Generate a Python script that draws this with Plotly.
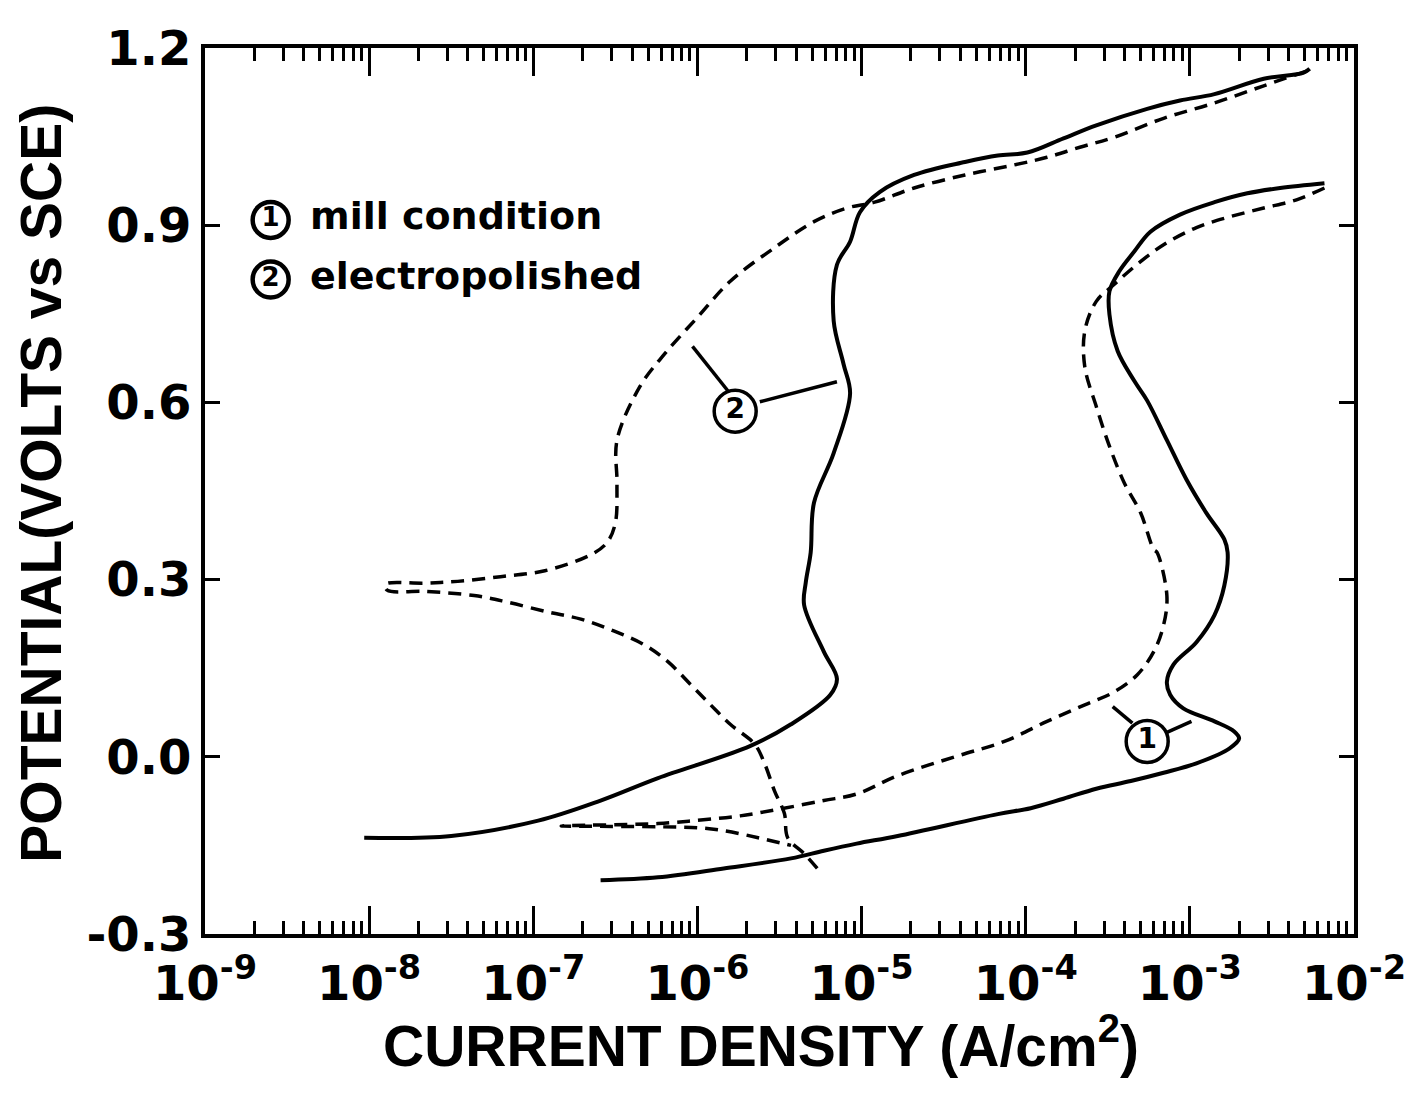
import plotly.graph_objects as go

# ---------------- data (log10 of current density in A/cm^2, potential in V vs SCE) ----------------
# (2) electropolished, forward scan (solid)
ep_fwd_logi = [-8.03, -7.50, -6.97, -6.59, -6.24, -5.68, -5.43, -5.19, -5.15, -5.23, -5.35, -5.34, -5.31,
               -5.29, -5.17, -5.07, -5.11, -5.17, -5.15, -5.07, -5.01, -4.89, -4.68, -4.37, -4.17, -3.99,
               -3.77, -3.57, -3.26, -3.06, -2.85, -2.55, -2.31, -2.27]
ep_fwd_v = [-0.137, -0.134, -0.108, -0.074, -0.036, 0.018, 0.055, 0.105, 0.132, 0.178, 0.257, 0.295, 0.346,
            0.430, 0.514, 0.615, 0.665, 0.738, 0.833, 0.872, 0.922, 0.956, 0.985, 1.007, 1.018, 1.023,
            1.047, 1.069, 1.097, 1.111, 1.122, 1.148, 1.158, 1.165]

# (2) electropolished, reverse scan (dashed)
ep_rev_logi = [-2.29, -2.55, -2.85, -3.16, -3.46, -3.67, -3.87, -4.07, -4.37, -4.68, -4.92, -5.09, -5.29,
               -5.53, -5.80, -6.00, -6.20, -6.35, -6.49, -6.49, -6.50, -6.55, -6.65, -6.93, -7.20, -7.46,
               -7.66, -7.90, -7.89, -7.66, -7.36, -7.16, -6.91, -6.71, -6.51, -6.32, -6.18, -6.04, -5.92,
               -5.80, -5.65, -5.59, -5.53, -5.47, -5.45, -5.35, -5.27]
ep_rev_v = [1.161, 1.136, 1.107, 1.081, 1.049, 1.032, 1.015, 1.002, 0.985, 0.963, 0.939, 0.929, 0.906,
            0.862, 0.805, 0.744, 0.682, 0.627, 0.536, 0.463, 0.396, 0.363, 0.342, 0.315, 0.305, 0.297,
            0.294, 0.292, 0.282, 0.280, 0.273, 0.262, 0.245, 0.233, 0.213, 0.189, 0.161, 0.122, 0.088,
            0.055, 0.021, -0.012, -0.058, -0.096, -0.137, -0.164, -0.189]

# (1) mill condition, forward scan (solid)
mill_fwd_logi = [-6.59, -6.24, -5.84, -5.43, -5.23, -5.03, -4.78, -4.17, -3.97, -3.77, -3.57, -3.36, -3.16,
                 -2.96, -2.76, -2.70, -2.73, -2.85, -3.04, -3.12, -3.14, -3.10, -2.96, -2.85, -2.79, -2.77,
                 -2.79, -2.90, -3.02, -3.14, -3.26, -3.34, -3.44, -3.49, -3.49, -3.43, -3.34, -3.24, -3.06,
                 -2.85, -2.65, -2.45, -2.18]
mill_fwd_v = [-0.209, -0.204, -0.189, -0.172, -0.159, -0.147, -0.134, -0.097, -0.087, -0.071, -0.054, -0.041,
              -0.027, -0.011, 0.014, 0.031, 0.043, 0.060, 0.082, 0.105, 0.127, 0.156, 0.194, 0.240, 0.290,
              0.346, 0.368, 0.413, 0.469, 0.536, 0.603, 0.637, 0.687, 0.749, 0.788, 0.822, 0.855, 0.889,
              0.918, 0.939, 0.954, 0.963, 0.971]

# (1) mill condition, reverse scan (dashed)
mill_rev_logi = [-2.18, -2.35, -2.55, -2.76, -2.96, -3.16, -3.32, -3.46, -3.57, -3.64, -3.64, -3.57, -3.49,
                 -3.40, -3.30, -3.22, -3.20, -3.14, -3.16, -3.22, -3.32, -3.46, -3.64, -3.87, -4.13, -4.42,
                 -4.78, -5.03, -5.23, -5.49, -5.74, -5.98, -6.24, -6.83, -6.00, -5.84, -5.63, -5.43]
mill_rev_v = [0.963, 0.943, 0.929, 0.914, 0.896, 0.867, 0.834, 0.800, 0.771, 0.721, 0.660, 0.593, 0.526,
              0.464, 0.413, 0.351, 0.346, 0.273, 0.223, 0.178, 0.139, 0.110, 0.088, 0.060, 0.026, 0.001,
              -0.032, -0.063, -0.074, -0.088, -0.100, -0.107, -0.113, -0.117, -0.120, -0.125, -0.137, -0.150]

# curve labels (circled numbers) and their leader lines
label_text = ["2", "1"]
label_logi = [-5.77, -3.26]
label_v = [0.585, 0.026]
leader_logi = [[-6.03, -5.81], [-5.62, -5.15], [-3.47, -3.35], [-3.15, -2.99]]
leader_v = [[0.695, 0.618], [0.601, 0.635], [0.085, 0.057], [0.040, 0.060]]

# key
key_nums = ["1", "2"]
key_names = ["mill condition", "electropolished"]
key_logi = [-8.60, -8.60]
key_text_logi = [-8.36, -8.36]
key_v = [0.909, 0.808]

y_ticks = [-0.3, 0.0, 0.3, 0.6, 0.9, 1.2]
y_ticklabels = ["-0.3", "0.0", "0.3", "0.6", "0.9", "1.2"]
x_tick_exps = [-9, -8, -7, -6, -5, -4, -3, -2]

x_title = "CURRENT DENSITY (A/cm<sup>2</sup>)"
y_title = "POTENTIAL(VOLTS vs SCE)"

# ---------------- figure ----------------
def lin(vals):
    return [10 ** v for v in vals]

fig = go.Figure()
solid = dict(color="black", width=4)
dashed = dict(color="black", width=3.5, dash="13px,8px")

fig.add_trace(go.Scatter(x=lin(ep_fwd_logi), y=ep_fwd_v, mode="lines", line=solid, line_shape="spline"))
fig.add_trace(go.Scatter(x=lin(ep_rev_logi), y=ep_rev_v, mode="lines", line=dashed, line_shape="spline"))
fig.add_trace(go.Scatter(x=lin(mill_fwd_logi), y=mill_fwd_v, mode="lines", line=solid, line_shape="spline"))
fig.add_trace(go.Scatter(x=lin(mill_rev_logi), y=mill_rev_v, mode="lines", line=dashed, line_shape="spline"))

for lx, lv in zip(leader_logi, leader_v):
    fig.add_trace(go.Scatter(x=lin(lx), y=lv, mode="lines", line=dict(color="black", width=3.5)))

fig.add_trace(go.Scatter(
    x=lin(label_logi), y=label_v, mode="markers+text", text=label_text,
    textposition="middle center",
    textfont=dict(family="DejaVu Sans", size=28, color="black", weight="bold"),
    marker=dict(symbol="circle", size=42, color="white", line=dict(color="black", width=3.5))))

fig.add_trace(go.Scatter(
    x=lin(key_logi), y=key_v, mode="markers+text", text=key_nums,
    textposition="middle center",
    textfont=dict(family="DejaVu Sans", size=26, color="black", weight="bold"),
    marker=dict(symbol="circle", size=36, color="white", line=dict(color="black", width=4.5))))

fig.add_trace(go.Scatter(
    x=lin(key_text_logi), y=key_v, mode="text", text=key_names,
    textposition="middle right",
    textfont=dict(family="DejaVu Sans", size=38, color="black", weight="bold")))

xtickfont = dict(family="DejaVu Sans", size=48, color="black", weight="bold")
ytickfont = dict(family="DejaVu Sans", size=48, color="black", weight="bold")
titlefont = dict(family="Liberation Sans", size=57, color="black", weight="bold")

fig.update_xaxes(
    type="log", range=[-9, -2],
    tickvals=[10 ** e for e in x_tick_exps],
    ticktext=[f"10<sup>{e}</sup>" for e in x_tick_exps],
    ticks="inside", ticklen=28, tickwidth=3, tickcolor="black",
    minor=dict(ticks="inside", ticklen=13, tickwidth=3, tickcolor="black", showgrid=False, dtick="D1"),
    showline=True, linecolor="black", linewidth=4, mirror="allticks",
    showgrid=False, zeroline=False, tickfont=xtickfont, ticklabelstandoff=4,
)
fig.update_yaxes(
    range=[-0.3, 1.2], tickvals=y_ticks, ticktext=y_ticklabels,
    ticks="inside", ticklen=15, tickwidth=3, tickcolor="black",
    showline=True, linecolor="black", linewidth=4, mirror="allticks",
    showgrid=False, zeroline=False, tickfont=ytickfont, ticklabelstandoff=0,
)

fig.add_annotation(text=x_title, xref="paper", yref="paper", x=0.484, y=-0.122,
                   xanchor="center", yanchor="middle", showarrow=False, font=titlefont)
fig.add_annotation(text=y_title, xref="paper", yref="paper", x=-0.143, y=0.509,
                   xanchor="center", yanchor="middle", showarrow=False, font=titlefont,
                   textangle=-90)

fig.update_layout(
    width=1418, height=1095,
    margin=dict(l=197, r=72, t=34, b=169),
    paper_bgcolor="white", plot_bgcolor="white",
    showlegend=False,
)

fig.write_html("out.html")
